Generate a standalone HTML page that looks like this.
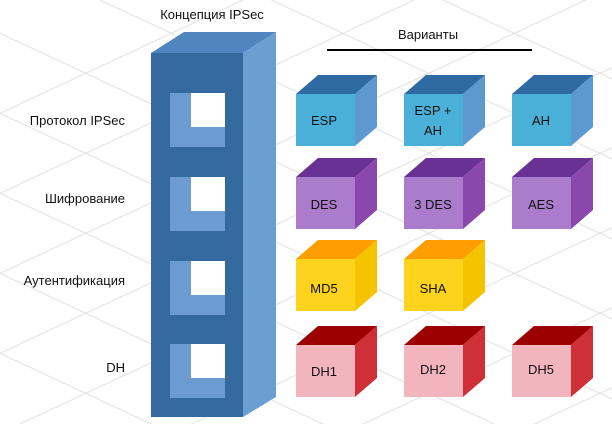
<!DOCTYPE html>
<html><head><meta charset="utf-8"><style>
html,body{margin:0;padding:0;background:#fff;overflow:hidden;width:612px;height:424px;}
svg{display:block;}
text{font-family:"Liberation Sans",sans-serif;font-size:13px;fill:#111;}
</style></head><body>
<svg width="612" height="424" viewBox="0 0 612 424" xmlns="http://www.w3.org/2000/svg">
<g stroke="#e0e0e0" stroke-width="1" fill="none">
<line x1="-200" y1="-60" x2="700" y2="360"/>
<line x1="-200" y1="20" x2="700" y2="440"/>
<line x1="-200" y1="100" x2="700" y2="520"/>
<line x1="-200" y1="180" x2="700" y2="600"/>
<line x1="-200" y1="260" x2="700" y2="680"/>
<line x1="-200" y1="-140" x2="700" y2="280"/>
<line x1="-200" y1="-220" x2="700" y2="200"/>
<line x1="-200" y1="-300" x2="700" y2="120"/>
<line x1="-200" y1="-380" x2="700" y2="40"/>
<line x1="-100" y1="400" x2="800" y2="-20"/>
<line x1="-100" y1="480" x2="800" y2="60"/>
<line x1="-100" y1="320" x2="800" y2="-100"/>
<line x1="-100" y1="240" x2="800" y2="-180"/>
<line x1="-100" y1="160" x2="800" y2="-260"/>
<line x1="-100" y1="560" x2="800" y2="140"/>
<line x1="-100" y1="640" x2="800" y2="220"/>
<line x1="-100" y1="720" x2="800" y2="300"/>
<line x1="-100" y1="800" x2="800" y2="380"/>
</g>
<text x="212" y="19" text-anchor="middle">Концепция IPSec</text>
<text x="428" y="39" text-anchor="middle">Варианты</text>
<line x1="327" y1="50" x2="532" y2="50" stroke="#000" stroke-width="2"/>
<text x="125" y="125" text-anchor="end">Протокол IPSec</text>
<text x="125" y="203" text-anchor="end">Шифрование</text>
<text x="125" y="285" text-anchor="end">Аутентификация</text>
<text x="125" y="372" text-anchor="end">DH</text>
<!-- tower -->
<polygon points="151,53 184,32 276,32 243,53" fill="#4f86c0"/>
<polygon points="243,53 276,32 276,397 243,417" fill="#6b9fd2"/>
<rect x="151" y="53" width="92" height="364" fill="#346aa0"/>
<g fill="#6b9bd0">
<rect x="170" y="93" width="55" height="54"/>
<rect x="170" y="177" width="55" height="54"/>
<rect x="170" y="261" width="55" height="54"/>
<rect x="170" y="344" width="55" height="54"/>
</g>
<g fill="#fff">
<rect x="191" y="93" width="34" height="34"/>
<rect x="191" y="177" width="34" height="34"/>
<rect x="191" y="261" width="34" height="34"/>
<rect x="191" y="344" width="34" height="34"/>
</g>
<!-- blue row -->
<polygon points="296,94 318,75 377,75 355,94" fill="#2f6aa3"/><polygon points="355,94 377,75 377,127 355,146" fill="#5e98d0"/><rect x="296" y="94" width="59" height="52" fill="#4bb0d8"/>
<polygon points="404,94 426,75 485,75 463,94" fill="#2f6aa3"/><polygon points="463,94 485,75 485,127 463,146" fill="#5e98d0"/><rect x="404" y="94" width="59" height="52" fill="#4bb0d8"/>
<polygon points="512,94 534,75 593,75 571,94" fill="#2f6aa3"/><polygon points="571,94 593,75 593,127 571,146" fill="#5e98d0"/><rect x="512" y="94" width="59" height="52" fill="#4bb0d8"/>
<!-- purple row -->
<polygon points="296,177 318,158 377,158 355,177" fill="#6a3194"/><polygon points="355,177 377,158 377,210 355,229" fill="#8a48ad"/><rect x="296" y="177" width="59" height="52" fill="#ab7ccb"/>
<polygon points="404,177 426,158 485,158 463,177" fill="#6a3194"/><polygon points="463,177 485,158 485,210 463,229" fill="#8a48ad"/><rect x="404" y="177" width="59" height="52" fill="#ab7ccb"/>
<polygon points="512,177 534,158 593,158 571,177" fill="#6a3194"/><polygon points="571,177 593,158 593,210 571,229" fill="#8a48ad"/><rect x="512" y="177" width="59" height="52" fill="#ab7ccb"/>
<!-- yellow row -->
<polygon points="296,259 318,240 377,240 355,259" fill="#ff9e00"/><polygon points="355,259 377,240 377,292 355,311" fill="#f6c300"/><rect x="296" y="259" width="59" height="52" fill="#fdd31d"/>
<polygon points="404,259 426,240 485,240 463,259" fill="#ff9e00"/><polygon points="463,259 485,240 485,292 463,311" fill="#f6c300"/><rect x="404" y="259" width="59" height="52" fill="#fdd31d"/>
<!-- red row -->
<polygon points="296,345 318,326 377,326 355,345" fill="#9c0000"/><polygon points="355,345 377,326 377,378 355,397" fill="#cf3037"/><rect x="296" y="345" width="59" height="52" fill="#f2b5bd"/>
<polygon points="404,345 426,326 485,326 463,345" fill="#9c0000"/><polygon points="463,345 485,326 485,378 463,397" fill="#cf3037"/><rect x="404" y="345" width="59" height="52" fill="#f2b5bd"/>
<polygon points="512,345 534,326 593,326 571,345" fill="#9c0000"/><polygon points="571,345 593,326 593,378 571,397" fill="#cf3037"/><rect x="512" y="345" width="59" height="52" fill="#f2b5bd"/>
<g text-anchor="middle" style="font-size:14px">
<text x="324" y="125">ESP</text>
<text x="433" y="115">ESP +</text><text x="433" y="135">AH</text>
<text x="541" y="125">AH</text>
<text x="324" y="209">DES</text><text x="433" y="209">3 DES</text><text x="541" y="209">AES</text>
<text x="324" y="293">MD5</text><text x="433" y="293">SHA</text>
<text x="324" y="376">DH1</text><text x="433" y="374">DH2</text><text x="541" y="374">DH5</text>
</g>
</svg>
</body></html>
